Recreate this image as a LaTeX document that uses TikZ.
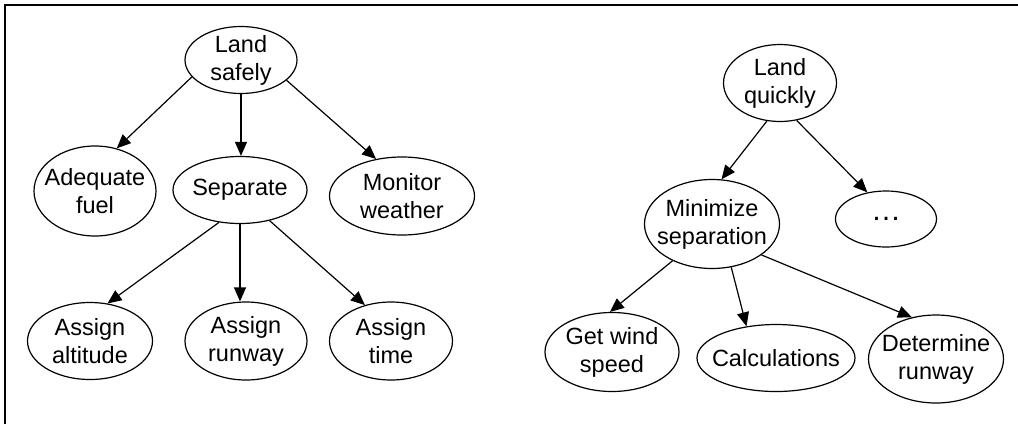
\documentclass[tikz,border=0pt]{standalone}
\usepackage{fontspec}
\setmainfont{Liberation Sans}
\usetikzlibrary{arrows.meta,shapes.geometric}
\begin{document}
\begin{tikzpicture}[x=1pt,y=-1pt,
  goal/.style n args={3}{ellipse, draw, line width=1.2pt, inner sep=0pt,
    minimum width=#1, minimum height=#2,
    label={[align=center, inner sep=0pt, font=\fontsize{23.5}{28}\selectfont]center:#3}},
  arr/.style={-{Triangle[length=14pt,width=12pt]}, line width=1.2pt},
  frame/.style={line width=2.4pt}]
\useasboundingbox (0,0) rectangle (1018,424);
\coordinate (fbl) at (5,424);
\coordinate (ftl) at (5,5);
\coordinate (ftr) at (1018,5);
\draw[frame] (fbl) -- (ftl) -- (ftr);

% left tree
\node[goal={112}{67}{Land\\safely}] (ls) at (241,60) {};
\node[goal={122}{90}{Adequate\\fuel}] (af) at (95,191) {};
\node[goal={134}{67}{Separate}] (sp) at (240,190) {};
\node[goal={145}{78}{Monitor\\weather}] (mw) at (402,196) {};
\node[goal={125}{77}{Assign\\altitude}] (aa) at (90,341) {};
\node[goal={122}{78}{Assign\\runway}] (ar) at (246,341) {};
\node[goal={123}{78}{Assign\\time}] (at) at (391,341) {};

\draw[arr] (ls.199) -- (af.63);
\draw[arr] (ls.south) -- (ls.south |- sp.north);
\draw[arr] (ls.336) -- (mw.125);
\draw[arr] (sp.237) -- (aa.65);
\draw[arr] (sp.south) -- (sp.south |- ar.north);
\draw[arr] (sp.314) -- (at.126);

% right tree
\node[goal={113}{77}{Land\\quickly}] (lq) at (780,83) {};
\node[goal={135}{89}{Minimize\\separation}] (ms) at (712,224) {};
\node[goal={101}{56}{\fontsize{30}{30}\selectfont …}] (dd) at (886,219) {};
\node[goal={134}{79}{Get wind\\speed}] (gw) at (612,352) {};
\node[goal={158}{67}{Calculations}] (ca) at (776,358) {};
\node[goal={135}{88}{Determine\\runway}] (dr) at (936,359) {};

\draw[arr] (lq.251) -- (ms.78);
\draw[arr] (lq.294) -- (dd.125);
\draw[arr] (ms.223) -- (gw.93);
\draw[arr] (ms.294) -- (ca.133);
\draw[arr] (ms.328) -- (dr.120);
\end{tikzpicture}
\end{document}
